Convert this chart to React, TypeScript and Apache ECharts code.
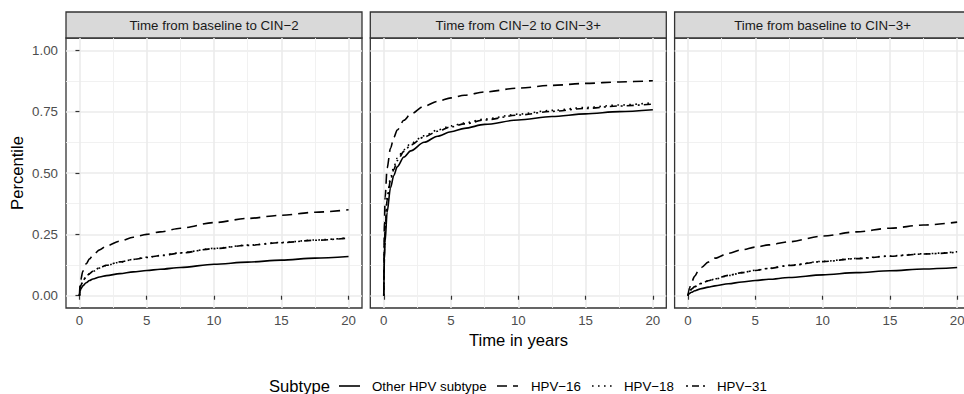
import React, { useEffect, useRef } from "react";
import * as echarts from "echarts";

// ---------- data ----------
const TIME = [0, 0.05, 0.1, 0.25, 0.5, 0.75, 1, 1.5, 2, 3, 4, 5, 6, 7.5, 10, 12.5, 15, 17.5, 20];

const SUBTYPES = ["Other HPV subtype", "HPV\u221216", "HPV\u221218", "HPV\u221231"];
const PANELS = [
  "Time from baseline to CIN\u22122",
  "Time from CIN\u22122 to CIN\u22123+",
  "Time from baseline to CIN\u22123+",
];

const X_TICKS = [0, 5, 10, 15, 20];
const X_MINOR = [2.5, 7.5, 12.5, 17.5];
const Y_TICKS = [0, 0.25, 0.5, 0.75, 1];
const Y_MINOR = [0.125, 0.375, 0.625, 0.875];

// Panel 1: baseline -> CIN-2
const P1_OTHER = [0, 0.018, 0.027, 0.04, 0.053, 0.062, 0.068, 0.076, 0.082, 0.09, 0.097, 0.103, 0.108, 0.115, 0.128, 0.137, 0.145, 0.153, 0.16];
const P1_HPV16 = [0, 0.045, 0.065, 0.1, 0.13, 0.15, 0.165, 0.187, 0.203, 0.222, 0.238, 0.25, 0.26, 0.275, 0.298, 0.315, 0.328, 0.34, 0.35];
const P1_HPV18 = [0, 0.028, 0.04, 0.058, 0.077, 0.089, 0.099, 0.113, 0.123, 0.137, 0.148, 0.157, 0.164, 0.175, 0.193, 0.206, 0.217, 0.227, 0.236];
const P1_HPV31 = [0, 0.03, 0.042, 0.06, 0.079, 0.09, 0.1, 0.114, 0.124, 0.138, 0.148, 0.156, 0.163, 0.174, 0.192, 0.205, 0.216, 0.226, 0.235];

// Panel 2: CIN-2 -> CIN-3+
const P2_OTHER = [0, 0.15, 0.22, 0.34, 0.44, 0.49, 0.525, 0.565, 0.59, 0.625, 0.65, 0.668, 0.682, 0.698, 0.716, 0.73, 0.741, 0.75, 0.758];
const P2_HPV16 = [0, 0.3, 0.4, 0.52, 0.6, 0.645, 0.675, 0.715, 0.74, 0.772, 0.792, 0.806, 0.817, 0.83, 0.846, 0.857, 0.865, 0.871, 0.876];
const P2_HPV18 = [0, 0.2, 0.28, 0.4, 0.48, 0.525, 0.56, 0.595, 0.62, 0.652, 0.675, 0.692, 0.704, 0.72, 0.74, 0.755, 0.767, 0.777, 0.786];
const P2_HPV31 = [0, 0.19, 0.27, 0.39, 0.47, 0.515, 0.55, 0.588, 0.614, 0.647, 0.67, 0.688, 0.7, 0.716, 0.736, 0.751, 0.763, 0.773, 0.781];

// Panel 3: baseline -> CIN-3+
const P3_OTHER = [0, 0.006, 0.009, 0.014, 0.02, 0.025, 0.029, 0.035, 0.04, 0.049, 0.056, 0.062, 0.067, 0.074, 0.085, 0.094, 0.102, 0.109, 0.115];
const P3_HPV16 = [0, 0.02, 0.03, 0.055, 0.08, 0.1, 0.115, 0.137, 0.153, 0.173, 0.187, 0.198, 0.207, 0.22, 0.243, 0.26, 0.275, 0.288, 0.3];
const P3_HPV18 = [0, 0.01, 0.016, 0.026, 0.036, 0.044, 0.05, 0.06, 0.068, 0.082, 0.094, 0.104, 0.112, 0.124, 0.14, 0.152, 0.162, 0.171, 0.179];
const P3_HPV31 = [0, 0.011, 0.017, 0.027, 0.037, 0.045, 0.051, 0.061, 0.069, 0.083, 0.094, 0.103, 0.111, 0.123, 0.139, 0.151, 0.161, 0.17, 0.177];

const PANEL_DATA = [
  [P1_OTHER, P1_HPV16, P1_HPV18, P1_HPV31],
  [P2_OTHER, P2_HPV16, P2_HPV18, P2_HPV31],
  [P3_OTHER, P3_HPV16, P3_HPV18, P3_HPV31],
];

// ---------- styling ----------
const FONT = "Liberation Sans, Arial, Helvetica, sans-serif";
const SMALL = 13.3;
const BIG = 16.6;
const LW = 1.6;
const DASHES: (number[] | "solid")[] = ["solid", [10, 6], [1.6, 4.4], [2, 4, 7, 4]];

const GRID_LEFT = [66, 370.3, 674.6];
const GRID_W = 296;
const GRID_TOP = 38;
const GRID_H = 270;
const STRIP_TOP = 12;
const STRIP_H = 26;

export default function App() {
  const ref = useRef<HTMLDivElement>(null);

  useEffect(() => {
    if (!ref.current) return;
    const chart = echarts.init(ref.current, undefined, { renderer: "svg" });

    const grids: any[] = [];
    const xAxes: any[] = [];
    const yAxes: any[] = [];
    const series: any[] = [];
    const graphics: any[] = [];

    PANELS.forEach((title, i) => {
      grids.push({
        left: GRID_LEFT[i],
        top: GRID_TOP,
        width: GRID_W,
        height: GRID_H,
        show: true,
        backgroundColor: "#FFFFFF",
        borderColor: "#333333",
        borderWidth: 1.3,
        containLabel: false,
        outerBoundsMode: "none",
      });
      // major x
      xAxes.push({
        gridIndex: i,
        type: "value",
        min: -1,
        max: 21,
        position: "bottom",
        axisLine: { show: false },
        axisTick: {
          show: true,
          customValues: X_TICKS,
          length: 4,
          lineStyle: { color: "#333333", width: 1.2 },
        },
        axisLabel: {
          show: true,
          customValues: X_TICKS,
          color: "#4D4D4D",
          fontSize: SMALL,
          fontFamily: FONT,
          margin: 6,
        },
        splitLine: { show: true, lineStyle: { color: "#EBEBEB", width: 1.6 } },
      });
      // minor x
      xAxes.push({
        gridIndex: i,
        type: "value",
        min: -1,
        max: 21,
        position: "top",
        axisLine: { show: false },
        axisTick: { show: false, customValues: X_MINOR },
        axisLabel: { show: false, customValues: X_MINOR },
        splitLine: { show: true, lineStyle: { color: "#EFEFEF", width: 0.9 } },
      });
      // major y
      yAxes.push({
        gridIndex: i,
        type: "value",
        min: -0.05,
        max: 1.05,
        position: "left",
        axisLine: { show: false },
        axisTick: {
          show: i === 0,
          customValues: Y_TICKS,
          length: 4,
          lineStyle: { color: "#333333", width: 1.2 },
        },
        axisLabel: {
          show: i === 0,
          customValues: Y_TICKS,
          color: "#4D4D4D",
          fontSize: SMALL,
          fontFamily: FONT,
          margin: 8,
          formatter: (v: number) => v.toFixed(2),
        },
        splitLine: { show: true, lineStyle: { color: "#EBEBEB", width: 1.6 } },
      });
      // minor y
      yAxes.push({
        gridIndex: i,
        type: "value",
        min: -0.05,
        max: 1.05,
        position: "right",
        axisLine: { show: false },
        axisTick: { show: false, customValues: Y_MINOR },
        axisLabel: { show: false, customValues: Y_MINOR },
        splitLine: { show: true, lineStyle: { color: "#EFEFEF", width: 0.9 } },
      });

      PANEL_DATA[i].forEach((vals, s) => {
        series.push({
          name: SUBTYPES[s],
          type: "line",
          xAxisIndex: 2 * i,
          yAxisIndex: 2 * i,
          data: TIME.map((t, k) => [t, vals[k]]),
          showSymbol: false,
          symbol: "none",
          smooth: 0.3,
          smoothMonotone: "x",
          color: "#000000",
          lineStyle: { color: "#000000", width: LW, type: DASHES[s] },
          z: 5,
          silent: true,
        });
      });

      // strip
      graphics.push({
        type: "rect",
        shape: { x: GRID_LEFT[i], y: STRIP_TOP, width: GRID_W, height: STRIP_H },
        style: { fill: "#D9D9D9", stroke: "#333333", lineWidth: 1.3 },
        silent: true,
      });
      graphics.push({
        type: "text",
        x: GRID_LEFT[i] + GRID_W / 2,
        y: STRIP_TOP + STRIP_H / 2,
        style: {
          text: title,
          fill: "#1A1A1A",
          fontSize: SMALL,
          fontFamily: FONT,
          align: "center",
          verticalAlign: "middle",
          textAlign: "center",
          textVerticalAlign: "middle",
        },
        silent: true,
      });
    });

    // axis titles
    graphics.push({
      type: "text",
      x: 17.5,
      y: GRID_TOP + GRID_H / 2,
      rotation: Math.PI / 2,
      style: {
        text: "Percentile",
        fill: "#000000",
        fontSize: BIG,
        fontFamily: FONT,
        align: "center",
        verticalAlign: "middle",
        textAlign: "center",
        textVerticalAlign: "middle",
      },
      silent: true,
    });
    graphics.push({
      type: "text",
      x: 518.5,
      y: 340,
      style: {
        text: "Time in years",
        fill: "#000000",
        fontSize: BIG,
        fontFamily: FONT,
        align: "center",
        verticalAlign: "middle",
        textAlign: "center",
        textVerticalAlign: "middle",
      },
      silent: true,
    });

    // legend
    const LEG_Y = 386;
    graphics.push({
      type: "text",
      x: 269,
      y: LEG_Y,
      style: {
        text: "Subtype",
        fill: "#000000",
        fontSize: BIG,
        fontFamily: FONT,
        align: "left",
        verticalAlign: "middle",
        textAlign: "left",
        textVerticalAlign: "middle",
      },
      silent: true,
    });
    const KEY_X = [339, 497, 592, 686];
    const LABEL_X = [372, 531, 624, 717];
    SUBTYPES.forEach((name, s) => {
      const d = DASHES[s];
      graphics.push({
        type: "line",
        shape: { x1: KEY_X[s], y1: LEG_Y, x2: KEY_X[s] + 21, y2: LEG_Y },
        style: {
          stroke: "#000000",
          lineWidth: LW,
          lineDash: d === "solid" ? null : d,
        },
        silent: true,
      });
      graphics.push({
        type: "text",
        x: LABEL_X[s],
        y: LEG_Y,
        style: {
          text: name,
          fill: "#000000",
          fontSize: SMALL,
          fontFamily: FONT,
          align: "left",
          verticalAlign: "middle",
          textAlign: "left",
          textVerticalAlign: "middle",
        },
        silent: true,
      });
    });

    chart.setOption({
      animation: false,
      backgroundColor: "#FFFFFF",
      textStyle: { fontFamily: FONT },
      grid: grids,
      xAxis: xAxes,
      yAxis: yAxes,
      series,
      graphic: graphics,
    });

    return () => chart.dispose();
  }, []);

  return (
    <div
      ref={ref}
      style={{ position: "absolute", left: 0, top: 0, width: 964, height: 394 }}
    />
  );
}
